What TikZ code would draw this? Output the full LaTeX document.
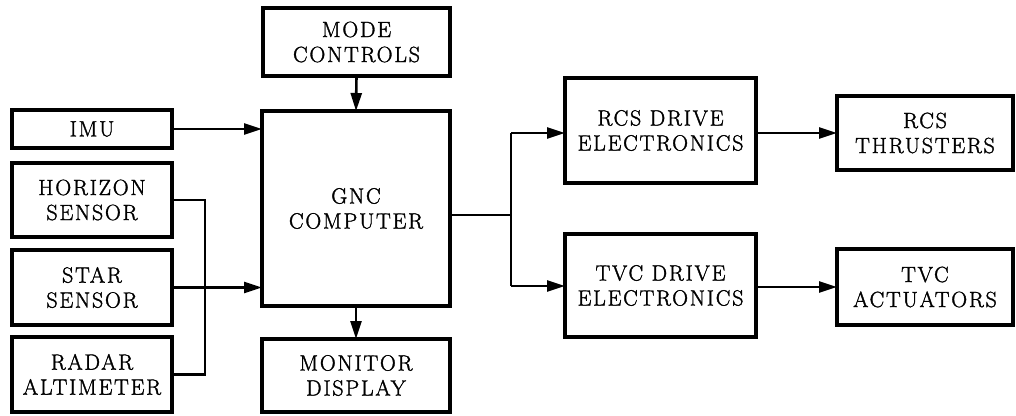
\documentclass[tikz,border=0pt]{standalone}
\usepackage{fontspec}
\newfontfamily\diagfont{Latin Modern Roman}[LetterSpace=8,FakeBold=1.5]
\usetikzlibrary{arrows.meta}
\begin{document}
\begin{tikzpicture}[x=1pt,y=-1pt,
  blk/.style={draw, line width=3.2pt, rectangle, align=center, inner sep=0pt, outer sep=0pt,
    font=\diagfont\fontsize{22}{25}\selectfont},
  conn/.style={line width=2.6pt},
  arr/.style={conn, -{Triangle[length=18pt,width=11pt]}}]
\useasboundingbox (0,0) rectangle (1016,415);
% boxes
\node[blk, minimum width=187, minimum height=68] (mode) at (356.5,42) {MODE\\CONTROLS};
\node[blk, minimum width=188, minimum height=195] (gnc) at (356,208.5) {GNC\\COMPUTER};
\node[blk, minimum width=188, minimum height=73] (mon) at (356,375.5) {MONITOR\\DISPLAY};
\node[blk, minimum width=160, minimum height=38] (imu) at (92,129) {IMU};
\node[blk, minimum width=160, minimum height=74] (hor) at (92,200) {HORIZON\\SENSOR};
\node[blk, minimum width=160, minimum height=75] (star) at (92,287.5) {STAR\\SENSOR};
\node[blk, minimum width=160, minimum height=75] (rad) at (92,374.5) {RADAR\\ALTIMETER};
\node[blk, minimum width=191, minimum height=105] (rcsd) at (660.5,130.5) {RCS DRIVE\\ELECTRONICS};
\node[blk, minimum width=191, minimum height=103] (tvcd) at (660.5,285.5) {TVC DRIVE\\ELECTRONICS};
\node[blk, minimum width=176, minimum height=74] (rcst) at (925,133) {RCS\\THRUSTERS};
\node[blk, minimum width=176, minimum height=76] (tvca) at (925,287) {TVC\\ACTUATORS};
% junction points
\coordinate (bt) at (205,200);
\coordinate (bb) at (205,374.5);
\coordinate (j) at (511,215);
\coordinate (j1) at (511,133);
\coordinate (j2) at (511,286);
% connectors
\draw[arr] (mode.south) -- (gnc.north);
\draw[arr] (gnc.south) -- (mon.north);
\draw[arr] (imu.east) -- (gnc.west |- imu.east);
\draw[arr] (star.east) -- (gnc.west |- star.east);
\draw[conn] (hor.east) -- (bt) -- (bb) -- (rad.east);
\draw[conn] (gnc.east |- j) -- (j);
\draw[conn] (j1) -- (j2);
\draw[arr] (j1) -- (rcsd.west |- j1);
\draw[arr] (j2) -- (tvcd.west |- j2);
\draw[arr] (rcsd.east |- rcst.west) -- (rcst.west);
\draw[arr] (tvcd.east |- tvca.west) -- (tvca.west);
\end{tikzpicture}
\end{document}
